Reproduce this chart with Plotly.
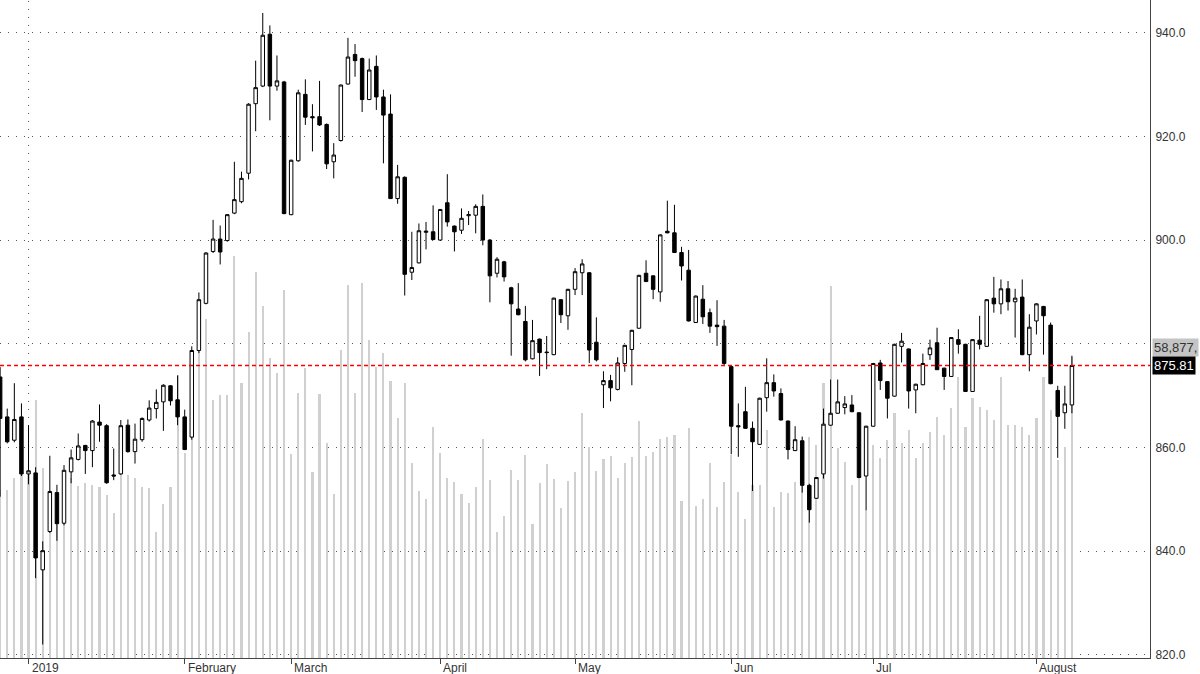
import plotly.graph_objects as go

# ---------------- data ----------------
opens = [873.6, 865.9, 861.4, 865.9,
         854.9, 855.1, 836.4, 843.8, 851.3, 845.4, 855.3, 857.7, 860.4, 859.4, 864.9, 864.2, 854.7, 854.9, 864.3, 859.2, 861.5, 865.3, 867.5, 868.8, 871.9, 869.2,
         865.9, 862.0, 878.7, 887.8, 897.8, 900.2, 899.9, 905.2, 907.4, 912.9, 926.3, 929.7, 939.7, 929.7, 930.5,
         904.9, 915.3, 928.1, 923.8, 923.8, 922.3, 915.1, 919.2, 930.1, 935.8, 935.0, 927.1, 933.5, 927.6, 924.3, 908.0, 912.1, 893.8, 895.6, 901.5, 901.6,
         900.0, 907.2, 902.7, 901.9, 904.7, 904.8, 906.5, 900.0, 893.6, 895.8, 890.8, 886.7, 884.3, 877.1, 880.9, 878.4, 877.9, 888.5, 885.4,
         890.5, 893.7, 893.7, 880.3, 872.1, 872.9, 871.2, 876.2, 878.9, 883.0, 893.6, 893.1, 890.0, 901.7, 901.4, 897.6, 894.2, 884.1, 888.6, 886.0, 883.6, 883.4,
         875.6, 864.2, 866.9, 863.7, 860.6, 869.6, 872.5, 870.4, 865.1, 859.4, 861.3, 852.7, 850.2, 854.9, 864.3, 866.6, 867.7, 868.2, 866.7, 854.5,
         864.1, 876.3, 872.7, 869.9, 879.5, 879.0, 871.1, 872.1, 877.9, 880.2, 875.3, 873.7, 880.8, 879.9, 870.8, 880.7, 879.5, 888.8, 887.7, 890.6, 888.1, 889.0, 877.9,
         884.4, 887.2, 883.6, 871.0, 866.7, 868.2]
highs = [875.5, 867.5, 872.4, 868.5,
         864.3, 856.2, 841.9, 858.4, 852.8, 856.6, 859.6, 862.7, 860.5, 865.3, 868.3, 864.5, 859.8, 865.3, 865.4, 864.6, 865.8, 869.1, 871.2, 872.2, 872.0, 873.9,
         867.3, 879.5, 889.9, 897.7, 903.9, 902.8, 905.0, 915.1, 913.2, 926.4, 934.6, 943.8, 941.4, 935.6, 930.7,
         915.5, 929.0, 931.0, 926.2, 930.7, 922.5, 918.7, 930.0, 939.0, 937.8, 935.2, 935.0, 935.6, 929.0, 928.1, 914.5, 912.3, 901.6, 903.2, 903.5, 906.7,
         906.0, 912.7, 902.8, 906.1, 905.6, 906.9, 908.8, 900.2, 896.7, 896.0, 891.0, 891.7, 887.3, 884.6, 881.0, 881.5, 888.9, 888.6, 890.6,
         894.6, 896.3, 893.8, 885.1, 874.7, 874.0, 877.4, 879.8, 882.7, 893.3, 896.1, 893.2, 901.1, 907.6, 906.8, 898.7, 898.1, 889.3, 891.3, 886.8, 888.4, 884.6,
         875.7, 868.5, 871.7, 865.0, 869.6, 877.2, 874.1, 871.4, 865.2, 864.1, 862.1, 853.0, 854.3, 867.5, 873.1, 873.1, 869.9, 870.1, 866.8, 864.2,
         876.3, 876.9, 872.8, 880.0, 882.1, 879.1, 872.3, 878.1, 880.8, 883.1, 875.4, 881.3, 882.8, 880.0, 880.9, 885.4, 888.6, 892.9, 892.4, 892.1, 890.6, 892.4, 885.7,
         887.8, 887.3, 884.1, 871.9, 871.9, 877.7]
lows = [850.5, 860.8, 861.0, 854.5,
        852.9, 834.8, 822.0, 843.5, 842.0, 845.0, 853.1, 857.5, 854.9, 856.2, 861.1, 853.0, 853.7, 854.7, 859.0, 856.9, 861.1, 865.0, 865.6, 863.2, 868.1, 864.3,
        859.5, 861.5, 878.2, 887.6, 897.5, 895.3, 899.7, 905.0, 907.1, 911.7, 921.0, 929.5, 923.1, 928.8, 905.0,
        904.8, 915.1, 922.2, 917.1, 922.0, 913.7, 911.9, 919.0, 930.0, 931.5, 924.7, 927.0, 925.1, 914.8, 908.0, 907.0, 889.3, 892.3, 895.5, 898.2, 900.0,
        899.9, 902.6, 897.8, 901.2, 902.9, 901.3, 899.0, 888.0, 892.8, 892.0, 877.7, 885.5, 876.6, 877.0, 873.8, 875.1, 877.8, 884.0, 882.7,
        889.4, 889.4, 876.3, 876.6, 867.6, 868.9, 871.0, 874.6, 872.0, 882.9, 891.9, 888.6, 888.1, 901.3, 897.5, 892.2, 884.3, 884.0, 883.8, 882.1, 879.6, 875.7,
        858.7, 858.2, 863.6, 851.6, 860.5, 866.9, 869.8, 865.2, 857.7, 859.3, 851.3, 845.5, 850.1, 854.0, 864.2, 866.5, 866.4, 866.8, 854.1, 847.9,
        864.0, 871.1, 865.6, 869.8, 876.4, 867.5, 866.6, 872.0, 876.9, 875.0, 871.1, 873.6, 878.1, 870.7, 870.7, 878.9, 879.4, 886.0, 885.7, 886.4, 881.2, 877.8, 874.7,
        881.8, 877.9, 872.2, 858.0, 863.6, 866.6]
closes = [865.6, 861.1, 865.4, 854.9,
          855.5, 838.7, 840.1, 851.5, 845.3, 855.6, 858.0, 860.3, 859.4, 865.1, 864.3, 853.2, 854.5, 864.2, 859.2, 861.6, 865.6, 867.6, 868.7, 872.0, 869.0, 865.9,
          859.6, 878.7, 888.5, 897.5, 900.2, 897.7, 904.9, 907.8, 911.9, 926.2, 929.4, 939.5, 929.7, 930.7, 905.1,
          915.4, 928.4, 923.7, 923.6, 922.2, 914.7, 916.4, 929.9, 935.3, 934.6, 927.1, 932.8, 927.6, 924.1, 908.0, 912.2, 893.4, 894.7, 901.8, 901.7, 900.1,
          905.9, 903.5, 901.6, 904.2, 904.9, 906.5, 900.0, 893.1, 896.3, 892.9, 887.7, 885.6, 876.9, 880.6, 878.3, 878.3, 888.8, 885.6, 890.5,
          893.9, 895.4, 878.8, 876.9, 872.9, 871.5, 876.3, 879.7, 882.6, 893.2, 892.0, 890.5, 901.0, 901.4, 897.6, 895.0, 884.4, 889.2, 885.2, 883.4, 883.3, 876.2,
          864.1, 864.0, 863.7, 861.1, 869.5, 872.5, 870.9, 865.3, 859.6, 861.5, 852.7, 848.0, 854.2, 864.5, 866.6, 868.8, 868.4, 866.9, 854.2, 864.1,
          876.2, 872.9, 869.5, 879.9, 880.5, 870.9, 872.2, 876.2, 879.2, 875.0, 873.7, 881.2, 879.9, 870.8, 880.8, 879.9, 888.5, 887.7, 890.6, 888.1, 888.8, 877.9, 883.2,
          887.7, 885.4, 872.3, 866.0, 868.4, 875.81]
# volume, millions of shares
volume = [32.9, 32.9, 35.2, 36.0,
          36.8, 50.5, 37.2, 32.9, 32.5, 35.8, 35.2, 33.6, 34.2, 33.8, 33.4, 31.9, 28.4, 35.8, 35.8, 35.2, 33.4, 33.3, 24.6, 30.1, 33.4, 55.4,
          40.1, 44.6, 62.2, 66.3, 50.5, 51.4, 51.4, 78.6, 53.8, 63.8, 75.5, 68.9, 58.7, 55.7, 72.0,
          39.9, 51.8, 56.7, 36.4, 51.6, 42.1, 32.1, 60.2, 73.0, 51.8, 73.4, 62.2, 56.9, 59.7, 54.2, 46.9, 53.8, 38.1, 32.7, 31.1, 45.2,
          40.1, 35.2, 34.4, 32.1, 30.3, 33.4, 42.8, 34.8, 24.6, 27.8, 36.8, 34.8, 39.7, 26.2, 34.2, 37.9, 35.0, 29.3, 34.6,
          36.4, 47.9, 41.3, 36.6, 38.9, 39.5, 35.2, 38.1, 39.3, 46.4, 39.5, 40.3, 42.8, 43.2, 43.6, 30.7, 45.0, 29.7, 31.1, 38.1, 29.5, 34.4,
          39.7, 32.5, 27.2, 33.8, 33.8, 44.6, 29.5, 32.5, 32.3, 34.4, 36.8, 43.2, 41.7, 53.8, 72.8, 41.1, 38.3, 33.8, 35.2, 28.9,
          41.7, 39.1, 42.6, 47.9, 42.1, 44.6, 39.1, 42.1, 44.2, 47.1, 43.6, 48.9, 55.0, 45.2, 50.9, 49.1, 48.5, 46.6, 55.0, 45.6, 45.6, 45.2, 43.6,
          46.9, 55.0, 48.5, 38.7, 41.3, 58.877]

# month labels and the session index where each month starts
month_labels = ["2019", "February", "March", "April", "May", "Jun", "Jul", "August"]
month_start_idx = [4, 26, 41, 62, 81, 103, 123, 146]
last_price = closes[-1]
last_volume_label = "58,877,"

x = list(range(len(closes)))
x_span = [-0.02, 162.0]

fig = go.Figure()

# volume (base axis, drawn underneath)
fig.add_trace(go.Bar(
    x=x, y=volume, width=0.3, yaxis="y",
    marker=dict(color="#d0d0d0", line=dict(width=0)),
    hoverinfo="skip", showlegend=False,
))

# last price reference line (red dashed), on the price axis
fig.add_trace(go.Scatter(
    x=x_span, y=[last_price, last_price], yaxis="y2", mode="lines",
    line=dict(color="#ff0000", width=1.6, dash="4px,3px"),
    hoverinfo="skip", showlegend=False,
))

# price candles (overlay axis, drawn on top)
fig.add_trace(go.Candlestick(
    x=x, open=opens, high=highs, low=lows, close=closes, yaxis="y2",
    increasing=dict(fillcolor="white", line=dict(color="black", width=1)),
    decreasing=dict(fillcolor="black", line=dict(color="black", width=1)),
    whiskerwidth=0, showlegend=False,
))

grid_dash = "1px,7px"

fig.update_layout(
    width=1200, height=674,
    margin=dict(l=0, r=50, t=0, b=16),
    paper_bgcolor="white", plot_bgcolor="white",
    font=dict(family="Liberation Sans, Arial, sans-serif", size=12, color="#333333"),
    showlegend=False,
    bargap=0,
    xaxis=dict(
        range=x_span,
        rangeslider=dict(visible=False),
        showgrid=False, zeroline=False,
        showline=True, linecolor="#444444", linewidth=1,
        tickvals=month_start_idx, ticktext=[""] * len(month_start_idx),
        ticks="outside", ticklen=5, tickcolor="#444444", tickwidth=1,
        showticklabels=False,
    ),
    yaxis=dict(
        range=[0, 128.7], visible=False, showgrid=False, zeroline=False,
    ),
    yaxis2=dict(
        range=[819.4, 946.3], overlaying="y", side="right",
        showgrid=True, gridcolor="#555555", gridwidth=1, griddash=grid_dash,
        zeroline=False,
        showline=True, linecolor="#444444", linewidth=1,
        tickvals=[820, 840, 860, 880, 900, 920, 940],
        tickformat=".1f", ticks="", ticklabelstandoff=2,
        tickfont=dict(size=12, color="#333333"),
    ),
)

# year separator (dotted vertical)
fig.add_shape(type="line", xref="x", yref="paper",
              x0=month_start_idx[0], x1=month_start_idx[0], y0=0, y1=1,
              line=dict(color="#555555", width=1, dash=grid_dash), layer="below")

# month labels, left aligned next to the tick marks
for lab, idx in zip(month_labels, month_start_idx):
    fig.add_annotation(x=idx, y=0, xref="x", yref="paper", text=lab,
                       showarrow=False, xanchor="left", yanchor="top",
                       xshift=1, yshift=-1,
                       font=dict(size=12, color="#333333"))

# right-side value tags
fig.add_annotation(x=1, y=volume[-1], xref="paper", yref="y", text=last_volume_label,
                   showarrow=False, xanchor="left", yanchor="bottom", xshift=2,
                   bgcolor="#c4c4c4", borderpad=1,
                   font=dict(size=13, color="#333333"))
fig.add_annotation(x=1, y=last_price, xref="paper", yref="y2", text=f"{last_price:.2f}",
                   showarrow=False, xanchor="left", yanchor="middle", xshift=2,
                   bgcolor="black", borderpad=1,
                   font=dict(size=13, color="white"))

fig.write_html("out.html")
